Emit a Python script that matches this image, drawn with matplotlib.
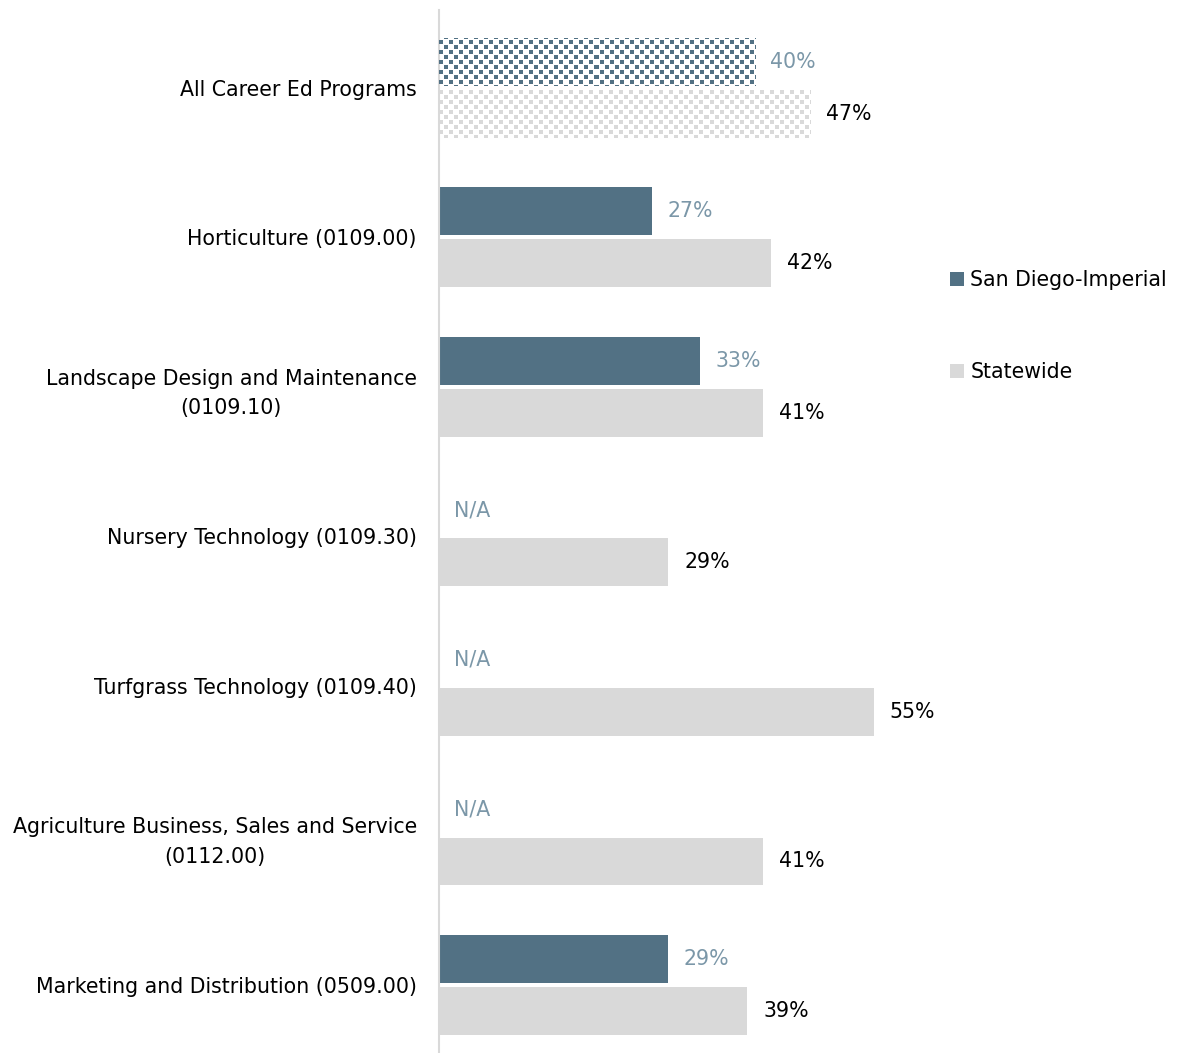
import numpy as np
import matplotlib
matplotlib.use("Agg")
import matplotlib.pyplot as plt
from matplotlib.patches import Patch

plt.rcParams['font.family'] = ['DejaVu Sans']

categories = [
    "All Career Ed Programs",
    "Horticulture (0109.00)",
    "Landscape Design and Maintenance\n(0109.10)",
    "Nursery Technology (0109.30)",
    "Turfgrass Technology (0109.40)",
    "Agriculture Business, Sales and Service\n(0112.00)",
    "Marketing and Distribution (0509.00)",
]
regional = [40, 27, 33, None, None, None, 29]
statewide = [47, 42, 41, 29, 55, 41, 39]
series_names = ["San Diego-Imperial", "Statewide"]

dark = "#527184"
light = "#d9d9d9"
dark_text = "#7b97a8"
fs = 14.8

fig = plt.figure(figsize=(11.82, 10.53), dpi=100)
ax = fig.add_axes([0.3714, 0.0, 0.4011, 0.9905])

y = np.arange(len(categories))
h = 0.32
off = 0.174

reg_vals = [v if v is not None else 0 for v in regional]
bars_r = ax.barh(y - off, reg_vals, height=h, color=dark)
bars_s = ax.barh(y + off, statewide, height=h, color=light)

ax.set_xlim(0, 60)
ax.set_ylim(6.455, -0.52)

# staggered small-square pattern for the overall pair of bars
fig.canvas.draw()
bb = ax.get_window_extent()
W, H = int(round(bb.width)), int(round(bb.height))
ii, jj = np.mgrid[0:H, 0:W]
row = ii // 5
mask = ((ii % 5) < 4) & (((jj + (row % 2) * 5) % 10) < 4)
for bar, col in [(bars_r[0], dark), (bars_s[0], light)]:
    bar.set_facecolor("white")
    rgba = np.zeros((H, W, 4))
    rgba[..., :3] = matplotlib.colors.to_rgb(col)
    rgba[..., 3] = mask.astype(float)
    im = ax.imshow(rgba, extent=(0, 1, 0, 1), transform=ax.transAxes,
                   interpolation="nearest", aspect="auto", zorder=3)
    im.set_clip_path(bar)
ax.set_xlim(0, 60)
ax.set_ylim(6.455, -0.52)

for i, v in enumerate(regional):
    txt = "N/A" if v is None else f"{v}%"
    ax.annotate(txt, (v or 0, y[i] - off), xytext=(11, 0), textcoords="offset points",
                va="center", ha="left", fontsize=fs, color=dark_text)
for i, v in enumerate(statewide):
    ax.annotate(f"{v}%", (v, y[i] + off), xytext=(11.5, 0), textcoords="offset points",
                va="center", ha="left", fontsize=fs, color="black")

ax.set_yticks(y)
ax.set_yticklabels(categories, fontsize=fs, multialignment="center", linespacing=1.6)
ax.tick_params(axis="y", length=0, pad=16)
ax.set_xticks([])
for s in ["top", "right", "bottom"]:
    ax.spines[s].set_visible(False)
ax.spines["left"].set_color(light)
ax.spines["left"].set_linewidth(1.5)

handles = [Patch(facecolor=dark), Patch(facecolor=light)]
fig.legend(handles, series_names, loc="center left", bbox_to_anchor=(0.788, 0.690),
           frameon=False, fontsize=fs, handlelength=0.7, handleheight=0.7,
           handletextpad=0.3, labelspacing=3.5)

fig.savefig("out.png", dpi=100)
